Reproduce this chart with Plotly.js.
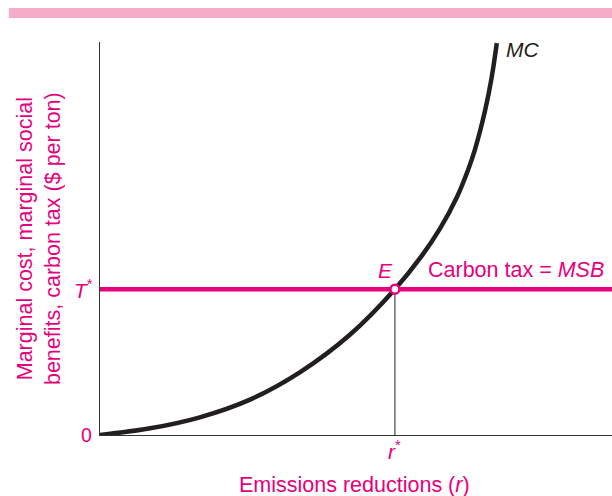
<!DOCTYPE html>
<html>
<head>
<meta charset="utf-8">
<script src="https://cdn.plot.ly/plotly-3.0.1.min.js"></script>
<style>html,body{margin:0;padding:0;background:#fff;}#chart{width:612px;height:496px;}</style>
</head>
<body>
<div id="chart"></div>
<script>
// Marginal cost curve (abstract units)
var mcX = [0, 0.98, 1.95, 2.93, 3.91, 4.88, 5.76, 6.28, 6.64, 6.97, 7.19, 7.32, 7.52, 7.65, 7.75];
var mcY = [0, 0.17, 0.45, 0.90, 1.60, 2.55, 3.71, 4.55, 5.25, 6.05, 6.75, 7.25, 8.25, 9.10, 9.97];
// Carbon tax level and equilibrium reduction
var tStar = 3.71;
var rStar = 5.76;
var taxX = [0, 10];
var taxY = [tStar, tStar];

var MAG = '#e6007e';
var INK = '#231f20';
var FONT = 'Liberation Sans, Arial, Helvetica, sans-serif';

var traces = [
  {x: taxX, y: taxY, mode: 'lines', line: {color: MAG, width: 4.5}, hoverinfo: 'skip'},
  {x: [rStar, rStar], y: [0, tStar], mode: 'lines', line: {color: INK, width: 1}, hoverinfo: 'skip'},
  {x: mcX, y: mcY, mode: 'lines', line: {color: INK, width: 4.5, shape: 'spline', smoothing: 1}, hoverinfo: 'skip'},
  {x: [rStar], y: [tStar], mode: 'markers', marker: {color: '#ffffff', size: 9, line: {color: MAG, width: 2.5}}, hoverinfo: 'skip'}
];

var layout = {
  width: 612, height: 496,
  margin: {l: 100, r: 0, t: 42, b: 61},
  paper_bgcolor: '#fff', plot_bgcolor: '#fff',
  showlegend: false,
  font: {family: FONT, size: 18, color: MAG},
  xaxis: {range: [0, 10], showline: true, linecolor: '#333', linewidth: 1, showgrid: false, zeroline: false, showticklabels: false, ticks: '', fixedrange: true},
  yaxis: {range: [0, 10], showline: true, linecolor: '#333', linewidth: 1, showgrid: false, zeroline: false, showticklabels: false, ticks: '', fixedrange: true},
  shapes: [
    {type: 'rect', xref: 'paper', yref: 'paper', x0: -0.178, x1: 1.0, y0: 1.061, y1: 1.0865, fillcolor: '#f4acc9', line: {width: 0}, layer: 'above'}
  ],
  annotations: [
    {xref: 'paper', yref: 'paper', x: -0.12, y: 0.5, xanchor: 'center', yanchor: 'middle', textangle: -90, showarrow: false,
     text: 'Marginal cost, marginal social<br>benefits, carbon tax ($ per ton)', font: {size: 21.5, color: MAG, family: FONT}},
    {xref: 'paper', yref: 'paper', x: 0.498, y: -0.127, xanchor: 'center', yanchor: 'middle', showarrow: false,
     text: 'Emissions reductions (<i>r</i>)', font: {size: 21.5, color: MAG, family: FONT}},
    {xref: 'paper', yref: 'y', x: -0.01, y: tStar, xanchor: 'right', yanchor: 'middle', showarrow: false,
     text: '<i>T</i><sup>*</sup>', font: {size: 21, color: MAG, family: FONT}},
    {xref: 'paper', yref: 'y', x: -0.012, y: 0, xanchor: 'right', yanchor: 'middle', showarrow: false,
     text: '0', font: {size: 19.5, color: MAG, family: FONT}},
    {xref: 'x', yref: 'paper', x: rStar, y: -0.038, xanchor: 'center', yanchor: 'middle', showarrow: false,
     text: '<i>r</i><sup>*</sup>', font: {size: 21, color: MAG, family: FONT}},
    {xref: 'x', yref: 'y', x: rStar - 0.18, y: tStar + 0.48, xanchor: 'center', yanchor: 'middle', showarrow: false,
     text: '<i>E</i>', font: {size: 21, color: MAG, family: FONT}},
    {xref: 'x', yref: 'y', x: rStar + 0.6, y: tStar + 0.48, xanchor: 'left', yanchor: 'middle', showarrow: false,
     text: 'Carbon tax = <i>MSB</i>', font: {size: 21.5, color: MAG, family: FONT}},
    {xref: 'paper', yref: 'paper', x: 0.79, y: 0.98, xanchor: 'left', yanchor: 'middle', showarrow: false,
     text: '<i>MC</i>', font: {size: 21, color: INK, family: FONT}}
  ]
};

Plotly.newPlot('chart', traces, layout, {staticPlot: true, displayModeBar: false});
</script>
</body>
</html>
